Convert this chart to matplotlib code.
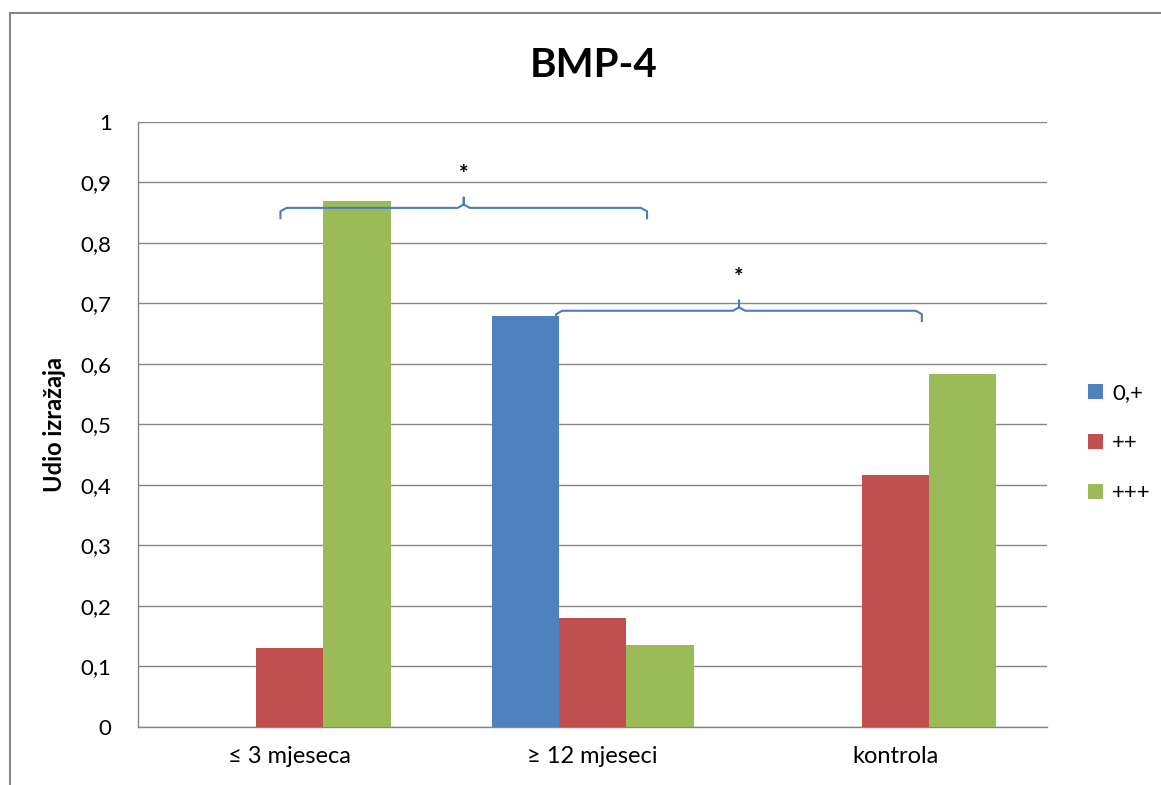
import matplotlib
matplotlib.use('Agg')

import matplotlib.pyplot as plt
from matplotlib.lines import Line2D
import numpy as np

plt.rcParams['font.family'] = ['Lato', 'DejaVu Sans']

# Data
categories = ['≤ 3 mjeseca', '≥ 12 mjeseci', 'kontrola']
series_names = ['0,+', '++', '+++']
values_0 = [0.0, 0.68, 0.0]
values_pp = [0.13, 0.18, 0.417]
values_ppp = [0.87, 0.136, 0.583]
colors = ['#4F81BD', '#C0504D', '#9BBB59']
yticks = [0, 0.1, 0.2, 0.3, 0.4, 0.5, 0.6, 0.7, 0.8, 0.9, 1]
ytick_labels = ['0', '0,1', '0,2', '0,3', '0,4', '0,5', '0,6', '0,7', '0,8', '0,9', '1']

# significance braces: (x start, x end, y of line)
braces = [(-0.03, 1.18, 0.858), (0.88, 2.087, 0.688)]

fig = plt.figure(figsize=(11.61, 7.85), dpi=100)
ax = fig.add_axes([0.1189, 0.0739, 0.7829, 0.7707])

x = np.arange(len(categories))
w = 2 / 9
all_values = [values_0, values_pp, values_ppp]
for i, (vals, name, c) in enumerate(zip(all_values, series_names, colors)):
    ax.bar(x + (i - 1) * w, vals, w, color=c, label=name, zorder=3)

ax.set_xlim(-0.5, 2.5)
ax.set_ylim(0, 1)
ax.set_yticks(yticks)
ax.set_yticklabels(ytick_labels, fontsize=16)
ax.set_xticks(x)
ax.set_xticklabels(categories, fontsize=17)
ax.tick_params(axis='x', length=0, pad=14)
ax.tick_params(axis='y', length=0, pad=19)
ax.grid(axis='y', color='#868686', linewidth=1, zorder=0)
for s in ['top', 'right']:
    ax.spines[s].set_visible(False)
for s in ['left', 'bottom']:
    ax.spines[s].set_color('#868686')
    ax.spines[s].set_linewidth(1)

ax.set_ylabel('Udio izražaja', fontsize=17, fontweight='bold')
ax.yaxis.set_label_coords(-0.079, 0.5)
fig.text(0.511, 0.917, 'BMP-4', fontsize=29, fontweight='bold', ha='center', va='center')

# braces and asterisks
for x0, x1, yb in braces:
    xm = (x0 + x1) / 2
    d = 0.017
    r = 0.02
    bx = [x0, x0, x0 + r, xm - r, xm, xm, xm, xm + r, x1 - r, x1, x1]
    by = [yb - d, yb - d / 3, yb, yb, yb + d / 3, yb + d, yb + d / 3, yb, yb, yb - d / 3, yb - d]
    ax.add_line(Line2D(bx, by, color='#4A7EBB', linewidth=1.5, zorder=4))
    ax.text(xm, yb + 0.055, '*', fontsize=16, fontweight='bold', ha='center', va='center',
            color='black', zorder=5)

leg = ax.legend(loc='center left', bbox_to_anchor=(1.023, 0.469), frameon=False, fontsize=16,
                handlelength=0.7, handleheight=0.7, handletextpad=0.4, labelspacing=1.35)

# outer chart frame
fig.add_artist(Line2D([10 / 1161, 10 / 1161], [0, 1 - 13 / 785], transform=fig.transFigure,
                      color='#868686', linewidth=1.5))
fig.add_artist(Line2D([10 / 1161, 1], [1 - 13 / 785, 1 - 13 / 785], transform=fig.transFigure,
                      color='#868686', linewidth=1.5))

plt.savefig('out.png', dpi=100)
